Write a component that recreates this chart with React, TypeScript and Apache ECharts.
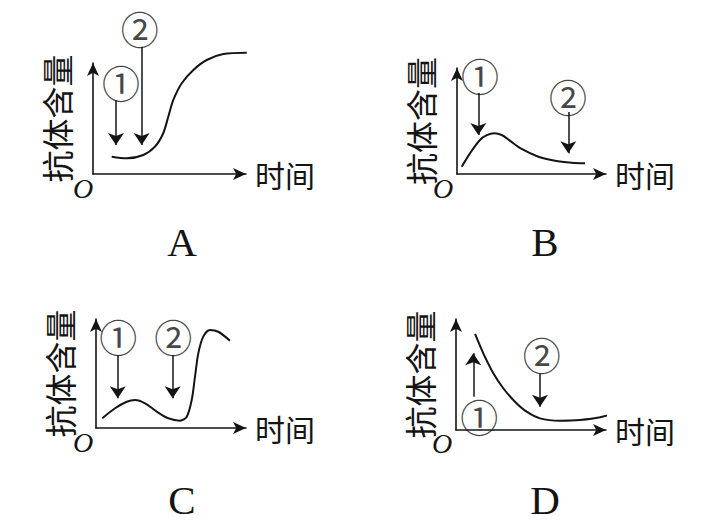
import React, { useEffect, useRef } from "react";
import * as echarts from "echarts";

// panel letters
const panelNames = ["A", "B", "C", "D"];
const xAxisName = "时间";
const yAxisName = "抗体含量";

// curves [x, y] on a 0-10 scale per panel
const curveA = [[1.22, 1.56], [2.2, 1.41], [3.29, 1.71], [4.05, 2.46], [4.59, 3.67], [4.92, 5.16], [5.25, 6.67], [5.8, 8.17], [6.56, 9.37], [7.43, 10.27], [8.52, 10.81], [10.05, 10.93]];
const curveB = [[0.32, 0.69], [0.87, 1.95], [1.54, 3.21], [2.0, 3.66], [2.5, 3.84], [3.0, 3.68], [3.5, 3.2], [4.34, 2.36], [5.46, 1.63], [6.58, 1.25], [7.7, 1.07], [8.59, 1.01]];
const curveC = [[0.42, 0.89], [1.27, 1.81], [2.05, 2.41], [2.6, 2.57], [3.27, 2.27], [4.05, 1.5], [4.82, 0.89], [5.6, 0.67], [6.05, 1.04], [6.38, 2.57], [6.6, 4.71], [6.82, 6.85], [7.15, 8.38], [7.6, 8.99], [8.15, 8.83], [8.93, 8.01]];
const curveD = [[1.27, 8.65], [1.82, 6.91], [2.49, 5.11], [3.15, 3.76], [3.93, 2.55], [4.71, 1.65], [5.6, 1.05], [6.93, 0.84], [8.27, 0.9], [9.6, 1.14], [11.15, 1.74]];

// annotation arrows [x, yFrom, yTo]
const arrowsA = [[1.5, 6.67, 2.61], [3.18, 11.47, 2.61]];
const arrowsB = [[1.43, 7.64, 3.68], [7.47, 5.85, 1.95]];
const arrowsC = [[1.45, 6.7, 2.72], [5.11, 6.7, 2.72]];
const arrowsD = [[1.15, 3.0, 6.91], [5.6, 5.11, 2.1]];

// circled labels [x, y, text]
const labelsA: [number, number, string][] = [[1.83, 8.29, "①"], [3.05, 13.2, "②"]];
const labelsB: [number, number, string][] = [[1.54, 9.34, "①"], [7.45, 7.45, "②"]];
const labelsC: [number, number, string][] = [[1.49, 8.53, "①"], [5.15, 8.53, "②"]];
const labelsD: [number, number, string][] = [[1.55, 1.35, "①"], [5.71, 6.91, "②"]];

const curves = [curveA, curveB, curveC, curveD];
const arrows = [arrowsA, arrowsB, arrowsC, arrowsD];
const labels = [labelsA, labelsB, labelsC, labelsD];

const INK = "#141414";
const CJK = "Noto Sans CJK SC";
const SERIF = "Liberation Serif, Times New Roman, serif";

const gridBoxes = [
  { left: 93, top: 63, width: 153, height: 111 },
  { left: 457, top: 68, width: 149, height: 106 },
  { left: 96, top: 319, width: 150, height: 109 },
  { left: 456, top: 319, width: 150, height: 111 },
];
const originPos = [[83, 188], [443, 188], [83, 442], [442, 443]];
const letterPos = [[182, 242], [545, 242], [182, 500], [545, 500]];

export default function App() {
  const ref = useRef<HTMLDivElement>(null);
  useEffect(() => {
    if (!ref.current) return;
    const chart = echarts.init(ref.current, undefined, { renderer: "svg" });
    const axisLine = {
      show: true,
      symbol: ["none", "arrow"],
      symbolSize: [9, 13],
      lineStyle: { color: INK, width: 1.6 },
    };
    const xAxis = gridBoxes.map((_, i) => ({
      gridIndex: i,
      type: "value",
      min: 0,
      max: 10,
      axisLine,
      axisTick: { show: false },
      axisLabel: { show: false },
      splitLine: { show: false },
      name: xAxisName,
      nameLocation: "end",
      nameGap: 9,
      nameTextStyle: { fontFamily: CJK, fontSize: 30, color: INK, verticalAlign: "middle" },
    }));
    const yAxis = gridBoxes.map((_, i) => ({
      gridIndex: i,
      type: "value",
      min: 0,
      max: 10,
      axisLine,
      axisTick: { show: false },
      axisLabel: { show: false },
      splitLine: { show: false },
      name: yAxisName,
      nameLocation: "middle",
      nameRotate: 90,
      nameGap: 21,
      nameTextStyle: { fontFamily: CJK, fontSize: 32, color: INK },
    }));
    const series: any[] = [];
    curves.forEach((c, i) => {
      series.push({
        type: "line",
        xAxisIndex: i,
        yAxisIndex: i,
        data: c,
        smooth: 0.3,
        symbol: "none",
        clip: false,
        lineStyle: { color: INK, width: 2 },
      });
      series.push({
        type: "lines",
        coordinateSystem: "cartesian2d",
        xAxisIndex: i,
        yAxisIndex: i,
        clip: false,
        silent: true,
        symbol: ["none", "arrow"],
        symbolSize: 12,
        lineStyle: { color: INK, width: 1.5, opacity: 1, curveness: 0 },
        data: arrows[i].map((a) => ({ coords: [[a[0], a[1]], [a[0], a[2]]] })),
      });
      series.push({
        type: "scatter",
        xAxisIndex: i,
        yAxisIndex: i,
        data: labels[i].map((l) => [l[0], l[1], l[2]]),
        symbolSize: 1,
        itemStyle: { color: "rgba(0,0,0,0)" },
        clip: false,
        silent: true,
        label: {
          show: true,
          position: "inside",
          formatter: (p: any) => p.value[2],
          fontFamily: CJK,
          fontSize: 38,
          lineHeight: 38,
          color: INK,
        },
      });
    });
    const graphic: any[] = [];
    originPos.forEach((p) => {
      graphic.push({
        type: "text",
        x: p[0],
        y: p[1],
        style: { text: "O", fontFamily: SERIF, fontStyle: "italic", fontSize: 28, fill: INK, align: "center", verticalAlign: "middle" },
      });
    });
    letterPos.forEach((p, i) => {
      graphic.push({
        type: "text",
        x: p[0],
        y: p[1],
        style: { text: panelNames[i], fontFamily: SERIF, fontSize: 41, fill: INK, align: "center", verticalAlign: "middle" },
      });
    });
    chart.setOption({
      animation: false,
      backgroundColor: "#ffffff",
      grid: gridBoxes,
      xAxis,
      yAxis,
      series,
      graphic,
    });
    return () => chart.dispose();
  }, []);
  return <div ref={ref} style={{ position: "fixed", left: 0, top: 0, width: 718, height: 525 }} />;
}
